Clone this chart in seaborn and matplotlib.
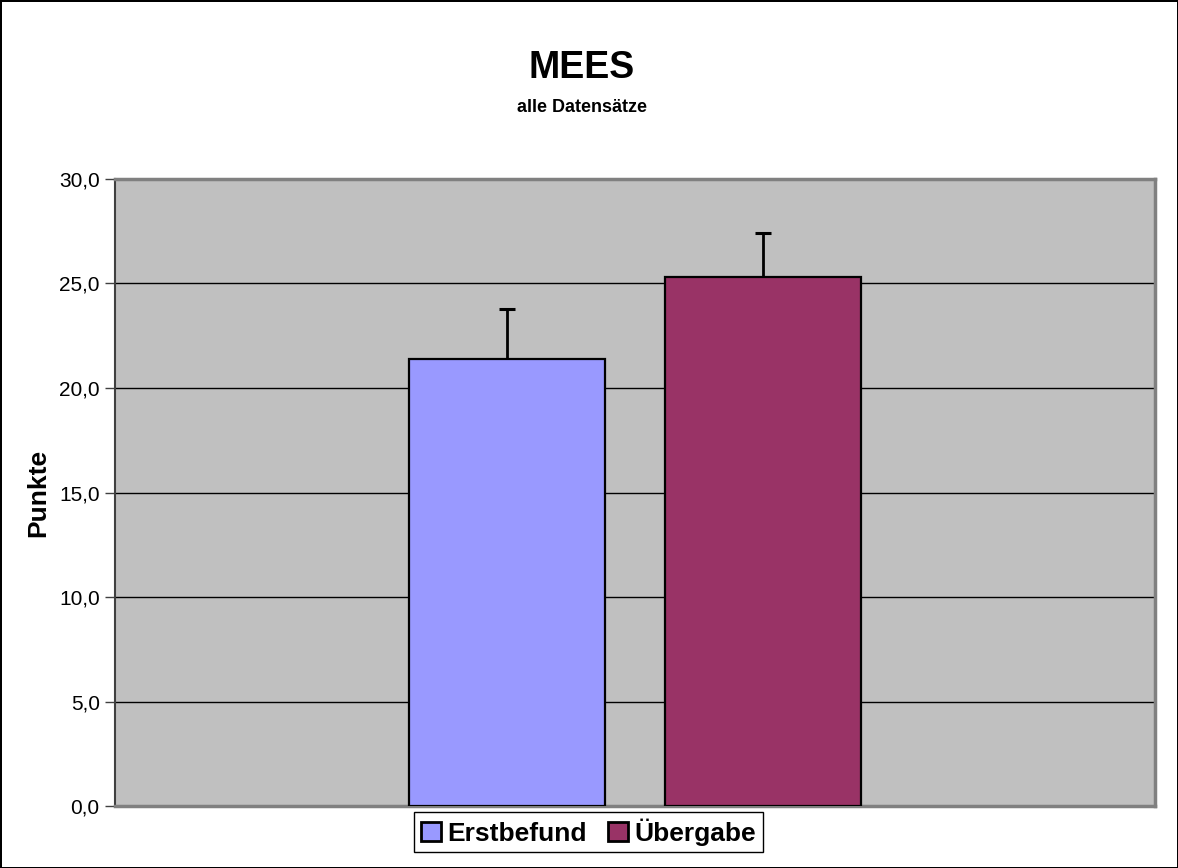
"""
MEES - alle Datensätze: Balkendiagramm Erstbefund vs. Übergabe mit Fehlerbalken.
"""

import matplotlib
matplotlib.use("Agg")
import matplotlib.pyplot as plt
from matplotlib.patches import Patch
import pandas as pd
import seaborn as sns

# Daten
series = ["Erstbefund", "Übergabe"]
means = [21.4, 25.3]
errors = [2.4, 2.1]
colors = ["#9999FF", "#993366"]
yticks = [0, 5, 10, 15, 20, 25, 30]
ytick_labels = ["0,0", "5,0", "10,0", "15,0", "20,0", "25,0", "30,0"]

sns.set_theme(style="white")
plt.rcParams["font.family"] = ["Liberation Sans", "DejaVu Sans"]
plt.rcParams["text.color"] = "black"
plt.rcParams["axes.labelcolor"] = "black"
plt.rcParams["ytick.color"] = "black"

df = pd.DataFrame({"Gruppe": ["MEES"] * len(series), "Serie": series, "Punkte": means})

fig = plt.figure(figsize=(11.78, 8.68), dpi=100)
fig.patch.set_facecolor("white")
fig.patch.set_edgecolor("black")
fig.patch.set_linewidth(2)
ax = fig.add_axes([0.0976, 0.0714, 0.8829, 0.7224])
ax.set_facecolor("#C0C0C0")

sns.barplot(data=df, x="Gruppe", y="Punkte", hue="Serie", hue_order=series,
            palette=colors, saturation=1, width=0.4923, gap=0.234, errorbar=None,
            edgecolor="black", linewidth=1.6, ax=ax, zorder=3)

# nur obere Fehlerbalken
for bars, m, e in zip(ax.containers, means, errors):
    p = bars.patches[0]
    _, caps, _ = ax.errorbar(p.get_x() + p.get_width() / 2, m, yerr=[[0], [e]], fmt="none",
                             ecolor="black", elinewidth=2, capsize=5.5, capthick=2.2, zorder=4)
    for c in caps:
        if abs(c.get_ydata()[0] - m) < 1e-9:
            c.remove()

ax.set_xlim(-0.5, 0.5)
ax.set_ylim(0, 30)
ax.set_yticks(yticks)
ax.set_yticklabels(ytick_labels, fontsize=15)
ax.set_xticks([])
ax.set_xlabel("")
ax.set_ylabel("Punkte", fontsize=19, fontweight="bold", labelpad=6)
ax.yaxis.grid(True, color="black", linewidth=1, zorder=0)
ax.set_axisbelow(True)
ax.tick_params(axis="y", direction="out", length=7, width=1, color="#404040", pad=4, left=True)

ax.spines["left"].set_color("#404040")
ax.spines["left"].set_linewidth(1.5)
for side in ["top", "right", "bottom"]:
    ax.spines[side].set_color("#808080")
    ax.spines[side].set_linewidth(2.5)

if ax.get_legend() is not None:
    ax.get_legend().remove()
handles = [Patch(facecolor=c, edgecolor="black", linewidth=2) for c in colors]
fig.legend(handles, series, loc="center", bbox_to_anchor=(0.4996, 0.0415), ncol=2,
           frameon=True, fancybox=False, edgecolor="black", framealpha=1,
           prop={"weight": "bold", "size": 19}, handlelength=0.75, handleheight=0.75,
           handletextpad=0.25, columnspacing=0.8, borderpad=0.25, borderaxespad=0)

fig.text(0.4937, 0.9217, "MEES", ha="center", va="center", fontsize=27, fontweight="bold")
fig.text(0.4937, 0.8756, "alle Datensätze", ha="center", va="center", fontsize=13, fontweight="bold")

fig.savefig("out.png", dpi=100, facecolor=fig.get_facecolor(), edgecolor=fig.get_edgecolor())
plt.close(fig)
